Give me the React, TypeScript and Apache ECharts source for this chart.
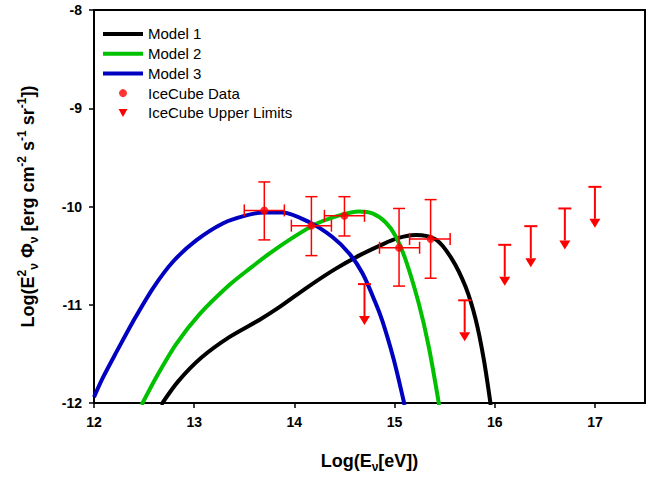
import React, { useEffect, useRef } from "react";
import * as echarts from "echarts";

const FONT = "Liberation Sans";

const model1: [number, number][] = [
  [12.67, -12.02], [12.84, -11.78], [13.07, -11.54], [13.35, -11.33], [13.65, -11.155],
  [13.85, -11.025], [14.14, -10.815], [14.41, -10.635], [14.645, -10.5], [14.88, -10.385],
  [15.04, -10.32], [15.21, -10.29], [15.41, -10.335], [15.57, -10.53], [15.71, -10.82],
  [15.81, -11.15], [15.89, -11.55], [15.96, -12.02],
];
const model2: [number, number][] = [
  [12.475, -12.02], [12.62, -11.74], [12.82, -11.4], [13.05, -11.1], [13.35, -10.8],
  [13.55, -10.635], [13.75, -10.48], [13.98, -10.32], [14.21, -10.18], [14.45, -10.09],
  [14.645, -10.05], [14.78, -10.07], [14.91, -10.16], [15.01, -10.3], [15.11, -10.54],
  [15.24, -10.98], [15.34, -11.42], [15.445, -12.02],
];
const model3: [number, number][] = [
  [12.0, -11.94], [12.09, -11.74], [12.23, -11.47], [12.39, -11.17], [12.59, -10.83],
  [12.79, -10.56], [13.02, -10.345], [13.29, -10.17], [13.52, -10.09], [13.7, -10.06],
  [13.88, -10.06], [14.15, -10.16], [14.38, -10.31], [14.55, -10.48], [14.68, -10.68],
  [14.81, -10.98], [14.88, -11.17], [14.99, -11.55], [15.1, -12.02],
];

const dataX = [13.7, 14.17, 14.5, 15.045, 15.36];
const dataY = [-10.04, -10.195, -10.095, -10.42, -10.33];
const dataXLow = [13.5, 13.97, 14.3, 14.85, 15.15];
const dataXHigh = [13.9, 14.37, 14.7, 15.25, 15.555];
const dataYLow = [-10.34, -10.5, -10.3, -10.81, -10.73];
const dataYHigh = [-9.75, -9.9, -9.9, -10.02, -9.93];

const ulX = [14.7, 15.7, 16.1, 16.36, 16.7, 17.0];
const ulY = [-10.79, -10.955, -10.39, -10.2, -10.02, -9.8];

const xTicks = [12, 13, 14, 15, 16, 17];

export default function App() {
  const ref = useRef<HTMLDivElement>(null);
  useEffect(() => {
    const chart = echarts.init(ref.current!, null, { renderer: "svg" });
    const red = "#ff0000";
    const errData = dataX.map((x, i) => [x, dataY[i], dataXLow[i], dataXHigh[i], dataYLow[i], dataYHigh[i]]);
    const ulData = ulX.map((x, i) => [x, ulY[i]]);
    const nameRich = {
      a: { fontSize: 18, fontWeight: "bold", fontFamily: FONT, color: "#000", lineHeight: 24, verticalAlign: "middle" },
      sup: { fontSize: 12, fontWeight: "bold", fontFamily: FONT, color: "#000", lineHeight: 12, verticalAlign: "top" },
      sub: { fontSize: 12, fontWeight: "bold", fontFamily: FONT, color: "#000", lineHeight: 12, verticalAlign: "bottom" },
    };
    const lineSeries = (name: string, data: [number, number][], color: string) => ({
      name,
      type: "line",
      data,
      smooth: 0.3,
      showSymbol: false,
      symbol: "none",
      color,
      lineStyle: { color, width: 4 },
      itemStyle: { color },
      z: 2,
    });
    chart.setOption({
      animation: false,
      backgroundColor: "#fff",
      grid: { left: 94, right: 8, top: 10, bottom: 70, show: true, borderColor: "#000", borderWidth: 2, backgroundColor: "transparent" },
      legend: {
        orient: "vertical",
        left: 103,
        top: 24,
        padding: 0,
        itemWidth: 40,
        itemHeight: 8,
        itemGap: 0,
        textStyle: { fontSize: 15, fontFamily: FONT, color: "#000", lineHeight: 19.75 },
        data: [
          { name: "Model 1", icon: "path://M0,0H40V4H0Z" },
          { name: "Model 2", icon: "path://M0,0H40V4H0Z" },
          { name: "Model 3", icon: "path://M0,0H40V4H0Z" },
          { name: "IceCube Data", icon: "circle" },
          { name: "IceCube Upper Limits", icon: "path://M0,0L10,0L5,9Z" },
        ],
      },
      xAxis: {
        type: "value",
        min: 12,
        max: 17.5,
        interval: 1,
        splitLine: { show: false },
        axisLine: { show: true, onZero: false, lineStyle: { color: "#000", width: 2 } },
        axisTick: { show: true, length: 5, lineStyle: { color: "#000", width: 1.5 }, customValues: xTicks },
        axisLabel: { customValues: xTicks, fontSize: 14, fontWeight: "bold", fontFamily: FONT, color: "#000", margin: 12 },
        name: "{a|Log(E}{sub|ν}{a|[eV])}",
        nameLocation: "middle",
        nameGap: 46,
        nameTextStyle: { rich: nameRich },
      },
      yAxis: {
        type: "value",
        min: -12,
        max: -8,
        interval: 1,
        splitLine: { show: false },
        axisLine: { show: true, onZero: false, lineStyle: { color: "#000", width: 2 } },
        axisTick: { show: true, length: 5, lineStyle: { color: "#000", width: 1.5 } },
        axisLabel: { fontSize: 14, fontWeight: "bold", fontFamily: FONT, color: "#000", margin: 12 },
        name: "{a|Log(E}{sup|2}{sub|ν}{a| Φ}{sub|ν}{a| [erg cm}{sup|-2}{a| s}{sup|-1}{a| sr}{sup|-1}{a|])}",
        nameLocation: "middle",
        nameGap: 54,
        nameRotate: 90,
        nameTextStyle: { rich: nameRich },
      },
      series: [
        lineSeries("Model 1", model1, "#000000"),
        lineSeries("Model 2", model2, "#00c000"),
        lineSeries("Model 3", model3, "#0000c0"),
        {
          name: "errbars",
          type: "custom",
          z: 4,
          data: errData,
          renderItem: (params: any, api: any) => {
            const x = api.value(0), y = api.value(1);
            const pL = api.coord([api.value(2), y]);
            const pR = api.coord([api.value(3), y]);
            const pB = api.coord([x, api.value(4)]);
            const pT = api.coord([x, api.value(5)]);
            const c = 6;
            const st = { stroke: red, lineWidth: 1.5 };
            return {
              type: "group",
              children: [
                { type: "line", shape: { x1: pL[0], y1: pL[1], x2: pR[0], y2: pR[1] }, style: st },
                { type: "line", shape: { x1: pL[0], y1: pL[1] - c, x2: pL[0], y2: pL[1] + c }, style: st },
                { type: "line", shape: { x1: pR[0], y1: pR[1] - c, x2: pR[0], y2: pR[1] + c }, style: st },
                { type: "line", shape: { x1: pT[0], y1: pT[1], x2: pB[0], y2: pB[1] }, style: st },
                { type: "line", shape: { x1: pT[0] - c, y1: pT[1], x2: pT[0] + c, y2: pT[1] }, style: st },
                { type: "line", shape: { x1: pB[0] - c, y1: pB[1], x2: pB[0] + c, y2: pB[1] }, style: st },
              ],
            };
          },
        },
        { name: "IceCube Data", type: "scatter", data: dataX.map((x, i) => [x, dataY[i]]), symbol: "circle", symbolSize: 8, itemStyle: { color: red }, z: 5 },
        {
          name: "IceCube Upper Limits",
          type: "custom",
          z: 4,
          itemStyle: { color: red },
          data: ulData,
          renderItem: (params: any, api: any) => {
            const p = api.coord([api.value(0), api.value(1)]);
            const len = 41, head = 9, hw = 5.5, cap = 6.5;
            const st = { stroke: red, lineWidth: 2 };
            return {
              type: "group",
              children: [
                { type: "line", shape: { x1: p[0] - cap, y1: p[1], x2: p[0] + cap, y2: p[1] }, style: st },
                { type: "line", shape: { x1: p[0], y1: p[1], x2: p[0], y2: p[1] + len - head }, style: st },
                { type: "polygon", shape: { points: [[p[0] - hw, p[1] + len - head], [p[0] + hw, p[1] + len - head], [p[0], p[1] + len]] }, style: { fill: red } },
              ],
            };
          },
        },
      ],
    });
    return () => chart.dispose();
  }, []);
  return <div ref={ref} style={{ position: "fixed", left: 0, top: 0, width: 653, height: 478 }} />;
}
